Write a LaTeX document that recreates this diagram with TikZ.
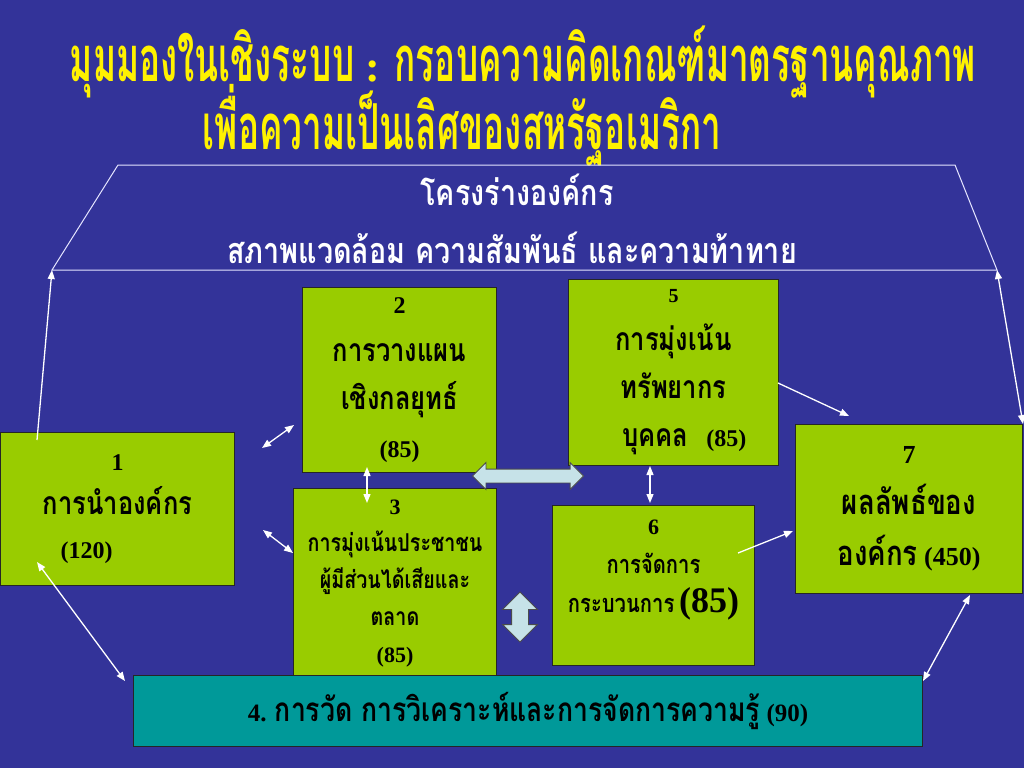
\documentclass[tikz,border=0pt]{standalone}
\usepackage{fontspec}
\setmainfont{Liberation Serif}
\newfontfamily\thaifont[Script=Thai,Scale=1.33,FakeStretch=0.8]{Loma}
\newfontfamily\titlefont[Script=Thai,Scale=1.44,FakeStretch=0.555]{Loma}
\usetikzlibrary{arrows.meta,shapes.arrows}

\definecolor{slideblue}{HTML}{333399}
\definecolor{boxgreen}{HTML}{99CC00}
\definecolor{barteal}{HTML}{009999}
\definecolor{blockblue}{HTML}{C6E2E8}
\newcommand\tth[1]{{\thaifont #1}}
\newcommand\ttl[1]{{\titlefont #1}}

\begin{document}
\begin{tikzpicture}[x=1pt, y=-1pt,
  every node/.style = {inner sep=0pt},
  box/.style = {draw=black!85, fill=boxgreen, line width=1pt, anchor=north west,
    align=center, font=\bfseries},
  link/.style = {white, line width=1.3pt,
    {Triangle[width=7pt,length=9pt]}-{Triangle[width=7pt,length=9pt]}},
  onelink/.style = {white, line width=1.3pt, -{Triangle[width=7pt,length=9pt]}},
  block/.style = {double arrow, draw=black!70, fill=blockblue, line width=0.8pt,
    inner xsep=0pt}]
  \useasboundingbox (0,0) rectangle (1024,768);
  \fill[slideblue] (0,0) rectangle (1024,768);

  % title
  \node[yellow, font=\bfseries\fontsize{44}{50}\selectfont] (title1) at (523,62)
    {\ttl{มุมมองในเชิงระบบ} : \ttl{กรอบความคิดเกณฑ์มาตรฐานคุณภาพ}};
  \node[yellow, font=\bfseries\fontsize{44}{50}\selectfont] (title2) at (462,125)
    {\ttl{เพื่อความเป็นเลิศของสหรัฐอเมริกา}};

  % frame
  \coordinate (fl) at (52,270);
  \coordinate (fr) at (997,270);
  \draw[blue!10, line width=1pt] (118,165) -- (955,165) -- (fr) -- (fl) -- cycle;
  \node[white, font=\bfseries\fontsize{27}{32}\selectfont] (frame1) at (517,190)
    {\tth{โครงร่างองค์กร}};
  \node[white, font=\bfseries\fontsize{27}{32}\selectfont] (frame2) at (512,248)
    {\tth{สภาพแวดล้อม ความสัมพันธ์  และความท้าทาย}};

  % boxes
  \node[box, minimum width=234pt, minimum height=153pt,
    font=\bfseries\fontsize{24}{44}\selectfont] (b1) at (0,432)
    {1\\ \tth{การนำองค์กร}\\ (120)\hspace{62pt}\mbox{}};
  \node[box, minimum width=194pt, minimum height=185pt,
    font=\bfseries\fontsize{24}{48}\selectfont] (b2) at (302,287)
    {2\\ \tth{การวางแผน}\\ \tth{เชิงกลยุทธ์}\\ (85)};
  \node[box, minimum width=203pt, minimum height=190pt,
    font=\bfseries\fontsize{18.5}{37}\selectfont] (b3) at (293,488)
    {{\fontsize{22}{26}\selectfont 3}\\ \tth{การมุ่งเน้นประชาชน}\\
     \tth{ผู้มีส่วนได้เสียและ}\\ \tth{ตลาด}\\ {\fontsize{22}{26}\selectfont(85)}};
  \node[box, minimum width=210pt, minimum height=186pt,
    font=\bfseries\fontsize{24}{48}\selectfont] (b5) at (568,279)
    {{\fontsize{20}{24}\selectfont 5}\\ \tth{การมุ่งเน้น}\\ \tth{ทรัพยากร}\\
     \hspace*{22pt}\tth{บุคคล}~~~(85)};
  \node[box, minimum width=202pt, minimum height=160pt,
    font=\bfseries\fontsize{19}{39}\selectfont] (b6) at (552,505)
    {{\fontsize{22}{26}\selectfont 6}\\ \tth{การจัดการ}\\
     \tth{กระบวนการ} {\fontsize{36}{40}\selectfont(85)}\\ ~};
  \node[box, minimum width=227pt, minimum height=169pt,
    font=\bfseries\fontsize{26}{51}\selectfont] (b7) at (795,424)
    {7\\ \tth{ผลลัพธ์ของ}\\ \tth{องค์กร} (450)};
  \node[box, fill=barteal, minimum width=789pt, minimum height=71pt,
    font=\bfseries\fontsize{25}{30}\selectfont] (b4) at (133,675)
    {4. \tth{การวัด  การวิเคราะห์และการจัดการความรู้}  (90)};

  % block arrows
  \node[block, minimum height=111pt, inner ysep=6.5pt,
    double arrow head extend=6.5pt] (harrow) at (528,476) {};
  \node[block, rotate=90, minimum height=50pt, inner ysep=8pt,
    double arrow head extend=9pt] (varrow) at (520,617) {};

  % links
  \coordinate (l1) at (37,440);
  \coordinate (l2a) at (262,448);
  \coordinate (l2b) at (294,425);
  \coordinate (l3a) at (263,530);
  \coordinate (l3b) at (293,553);
  \coordinate (l4a) at (367,467);
  \coordinate (l4b) at (367,503);
  \coordinate (l5a) at (650,466);
  \coordinate (l5b) at (650,503);
  \coordinate (l6a) at (778,383);
  \coordinate (l6b) at (849,416);
  \coordinate (l7a) at (738,553);
  \coordinate (l7b) at (793,531);
  \coordinate (l8a) at (37,562);
  \coordinate (l8b) at (125,681);
  \coordinate (l9a) at (970,595);
  \coordinate (l9b) at (923,681);
  \draw[onelink] (l1) -- (fl);
  \draw[link] (fr) -- (b7.north east);
  \draw[link] (l2a) -- (l2b);
  \draw[link] (l3a) -- (l3b);
  \draw[link] (l4a) -- (l4b);
  \draw[link] (l5a) -- (l5b);
  \draw[onelink] (l6a) -- (l6b);
  \draw[onelink] (l7a) -- (l7b);
  \draw[link] (l8a) -- (l8b);
  \draw[link] (l9a) -- (l9b);
\end{tikzpicture}
\end{document}
